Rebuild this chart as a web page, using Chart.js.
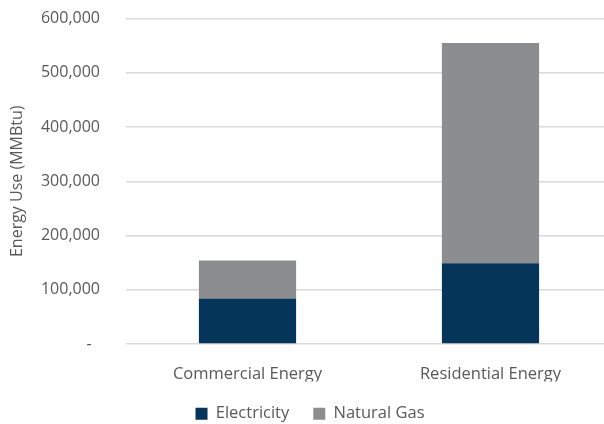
<!DOCTYPE html>
<html>
<head>
<meta charset="utf-8">
<script src="https://cdn.jsdelivr.net/npm/chart.js@4/dist/chart.umd.min.js"></script>
<style>
  html, body { margin: 0; padding: 0; background: #fff; overflow: hidden; }
  #wrap { width: 612px; height: 424px; }
</style>
</head>
<body>
<div id="wrap"><canvas id="chart" width="612" height="424"></canvas></div>
<script>
// Datos
const categorias  = ['Commercial Energy', 'Residential Energy'];
const electricity = [84000, 149000];
const naturalGas  = [70000, 406000];
const yTicks      = [0, 100000, 200000, 300000, 400000, 500000, 600000];

const FONT = "'Open Sans', sans-serif";
const GRIS = '#595959';

// Formato contable: cero como "-"
const fmt = v => v === 0 ? '-  ' : v.toLocaleString('en-US');

new Chart(document.getElementById('chart'), {
  type: 'bar',
  data: {
    labels: categorias,
    datasets: [
      { label: 'Electricity', data: electricity, backgroundColor: '#06355a' },
      { label: 'Natural Gas', data: naturalGas,  backgroundColor: '#8c8d8f' }
    ]
  },
  options: {
    responsive: false,
    animation: false,
    layout: { padding: { top: 18.5, left: 8, right: 0, bottom: -8 } },
    datasets: { bar: { categoryPercentage: 0.4, barPercentage: 1 } },
    plugins: {
      tooltip: { enabled: false },
      legend: {
        position: 'bottom',
        labels: {
          color: GRIS, font: { family: FONT, size: 16.5 },
          boxWidth: 12, boxHeight: 12, padding: 24
        }
      }
    },
    scales: {
      x: {
        stacked: true,
        grid: { display: false },
        border: { display: false },
        afterFit: s => { s.height = 37.5; },
        ticks: { color: GRIS, font: { family: FONT, size: 16.5 }, padding: 12 }
      },
      y: {
        stacked: true,
        min: 0, max: 600000,
        afterBuildTicks: s => { s.ticks = yTicks.map(v => ({ value: v })); },
        afterFit: s => { s.width = 118; },
        grid: { color: '#d9d9d9', lineWidth: 1.5, drawTicks: true, tickLength: 26, tickColor: 'rgba(0,0,0,0)' },
        border: { display: false },
        ticks: { color: GRIS, font: { family: FONT, size: 16 }, padding: 0, callback: fmt },
        title: { display: true, text: 'Energy Use (MMBtu)', color: GRIS, font: { family: FONT, size: 16 }, padding: 0 }
      }
    }
  }
});
</script>
</body>
</html>
